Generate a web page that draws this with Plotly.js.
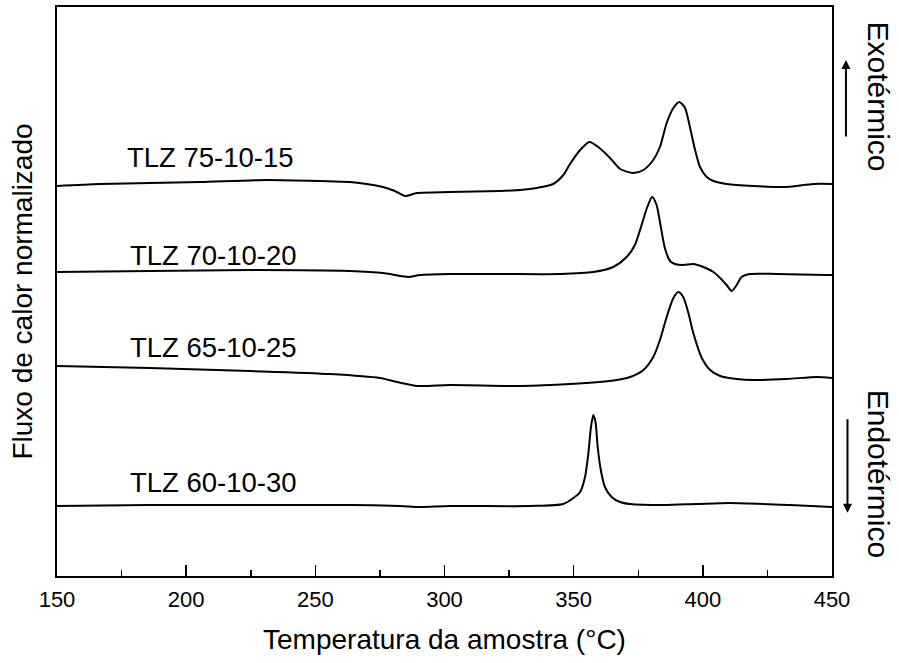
<!DOCTYPE html>
<html>
<head>
<meta charset="utf-8">
<script src="https://cdn.plot.ly/plotly-3.0.1.min.js"></script>
<style>body{margin:0;padding:0;background:#fff}#chart{width:899px;height:663px}</style>
</head>
<body>
<div id="chart"></div>
<script>
// Temperature (°C) and normalized heat flow (a.u.)
const t75 = [150,166.6,186.0,205.4,231.3,251.8,263.4,276.2,280.8,284.7,289.3,302.1,321.5,329.2,335.7,342.1,346.0,348.6,352.5,356.1,359.5,364.1,368.0,373.1,377.0,380.8,383.4,386.0,388.6,390.9,393.1,395.0,397.0,398.9,401.5,404.1,409.2,419.5,432.5,442.8,450];
const f75 = [3.90,3.92,3.93,3.94,3.96,3.95,3.94,3.89,3.85,3.80,3.83,3.84,3.85,3.86,3.88,3.92,4.01,4.12,4.26,4.34,4.29,4.18,4.07,4.03,4.06,4.16,4.29,4.53,4.68,4.74,4.68,4.49,4.26,4.09,3.99,3.95,3.92,3.90,3.89,3.92,3.92];

const t70 = [150,186.0,224.7,263.4,276.2,280.8,285.9,290.5,302.1,321.5,344.7,357.6,365.3,370.5,373.7,376.3,378.5,380.4,382.1,383.4,385.3,387.3,389.2,392.4,396.3,400.2,404.1,406.7,409.2,411.2,413.1,415.0,418.3,428.6,448.0,450];
const f70 = [3.04,3.05,3.06,3.05,3.03,3.01,2.99,3.01,3.02,3.02,3.02,3.04,3.09,3.19,3.31,3.51,3.69,3.79,3.71,3.54,3.28,3.15,3.12,3.11,3.12,3.09,3.04,2.98,2.91,2.85,2.91,2.99,3.02,3.02,3.01,3.01];

const t65 = [150,186,224.7,255.7,275.0,281.6,289.7,302.1,329.2,348.6,366.7,371.9,377.0,380.8,383.4,386.0,388.6,390.5,392.4,394.4,396.3,399.6,402.8,406.7,413.1,419.5,432.4,444.1,450];
const f65 = [2.10,2.08,2.05,2.02,1.98,1.94,1.90,1.91,1.90,1.92,1.96,1.99,2.06,2.19,2.36,2.59,2.78,2.84,2.79,2.63,2.43,2.18,2.06,2.00,1.97,1.96,1.97,1.99,1.98];

const t60 = [150,186,224.7,263.4,282.8,290.5,302.1,333.1,346.0,349.9,352.5,354.4,355.7,356.7,357.6,358.5,359.3,360.5,362.1,364.7,367.9,371.8,384.7,397.6,410.5,433.7,450];
const f60 = [0.70,0.71,0.71,0.71,0.70,0.69,0.70,0.70,0.72,0.78,0.84,0.99,1.23,1.49,1.61,1.53,1.29,1.06,0.89,0.79,0.74,0.72,0.71,0.72,0.73,0.71,0.69];

const sampleNames = ["TLZ 75-10-15","TLZ 70-10-20","TLZ 65-10-25","TLZ 60-10-30"];
const labelT = [176.3,177.5,177.5,177.5];
const labelF = [4.19,3.21,2.29,0.94];
const xTickVals = [150,200,250,300,350,400,450];

const FONT = "Liberation Sans, Arial, Helvetica, sans-serif";
const series = [[t75,f75],[t70,f70],[t65,f65],[t60,f60]];
const traces = series.map((s,i)=>({
  x:s[0], y:s[1], type:'scatter', mode:'lines', name:sampleNames[i],
  line:{color:'#000', width:2, shape:'spline', smoothing:0.7}, hoverinfo:'x+y'
}));

const annotations = sampleNames.map((n,i)=>({
  x:labelT[i], y:labelF[i], xref:'x', yref:'y', text:n, showarrow:false,
  xanchor:'left', yanchor:'middle', font:{family:FONT, size:27.5, color:'#000'}
}));
annotations.push(
  {xref:'paper', yref:'paper', x:1.0605, y:0.843, text:'Exotérmico', textangle:90, showarrow:false,
   xanchor:'center', yanchor:'middle', borderpad:0, font:{family:FONT, size:30, color:'#000'}},
  {xref:'paper', yref:'paper', x:1.0605, y:0.180, text:'Endotérmico', textangle:90, showarrow:false,
   xanchor:'center', yanchor:'middle', borderpad:0, font:{family:FONT, size:30, color:'#000'}},
  {xref:'paper', yref:'paper', x:1.018, y:0.907, ax:0, ay:78, text:'', showarrow:true,
   arrowhead:2, arrowsize:0.9, arrowwidth:2, arrowcolor:'#000'},
  {xref:'paper', yref:'paper', x:1.020, y:0.111, ax:0, ay:-95, text:'', showarrow:true,
   arrowhead:2, arrowsize:0.9, arrowwidth:2, arrowcolor:'#000'}
);

const layout = {
  width:899, height:663,
  margin:{l:57, r:67, t:7, b:87},
  paper_bgcolor:'#fff', plot_bgcolor:'#fff',
  showlegend:false,
  font:{family:FONT, color:'#000'},
  xaxis:{
    range:[150,450], tickvals:xTickVals, ticktext:xTickVals.map(String),
    ticks:'inside', ticklen:11, tickwidth:1.5, tickcolor:'#000',
    minor:{dtick:25, tick0:150, ticks:'inside', ticklen:6, tickwidth:1.5, tickcolor:'#000'},
    showline:true, linewidth:2, linecolor:'#000', mirror:true,
    showgrid:false, zeroline:false, ticklabelstandoff:3,
    tickfont:{family:FONT, size:22, color:'#000'},
    title:{text:'Temperatura da amostra (°C)', font:{family:FONT, size:28, color:'#000'}, standoff:18}
  },
  yaxis:{
    range:[0,5.69], showticklabels:false, ticks:'',
    showline:true, linewidth:2, linecolor:'#000', mirror:true,
    showgrid:false, zeroline:false,
    title:{text:'Fluxo de calor normalizado', font:{family:FONT, size:28, color:'#000'}, standoff:14}
  },
  annotations:annotations
};
Plotly.newPlot('chart', traces, layout, {displayModeBar:false, staticPlot:true});
</script>
</body>
</html>
